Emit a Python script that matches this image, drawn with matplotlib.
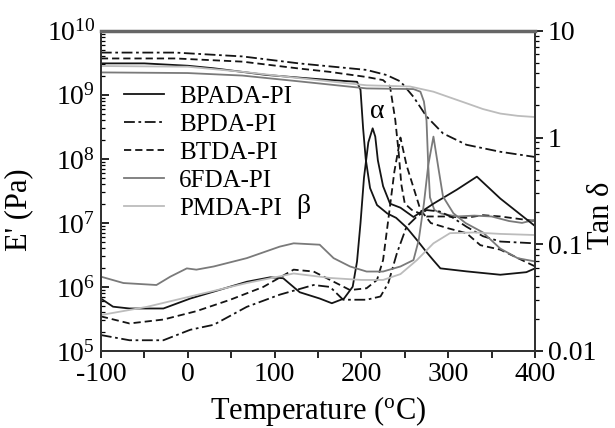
"""DMA curves of the five polyimides: E' and tan delta against temperature."""

import matplotlib
matplotlib.use('Agg')
import matplotlib.pyplot as plt
from matplotlib.ticker import LogLocator, MultipleLocator, NullFormatter

plt.rcParams['font.family'] = ['Liberation Serif', 'DejaVu Serif']
plt.rcParams['mathtext.fontset'] = 'custom'
plt.rcParams['mathtext.rm'] = 'Liberation Serif'
plt.rcParams['mathtext.it'] = 'Liberation Serif:italic'
plt.rcParams['axes.unicode_minus'] = False

NAMES = ['BPADA-PI', 'BPDA-PI', 'BTDA-PI', '6FDA-PI', 'PMDA-PI']

# storage modulus E' (Pa)
bpada_t_e = [-100, -50, 0, 30, 90, 130, 165, 195, 199, 202, 205, 210, 218, 230,
             240, 252, 264, 275, 283, 291, 321, 360, 390, 400]
bpada_e = [3.1e9, 3.1e9, 2.85e9, 2.6e9, 2.05e9, 1.85e9, 1.7e9, 1.6e9, 1.2e9, 3e8,
           1e8, 3.5e7, 1.9e7, 1.4e7, 1.2e7, 8.5e6, 5.4e6, 3.5e6, 2.6e6, 1.95e6,
           1.75e6, 1.55e6, 1.7e6, 1.95e6]
bpda_t_e = [-100, -14, 63, 129, 206, 229, 245, 260, 275, 294, 321, 360, 400]
bpda_e = [4.57e9, 4.57e9, 3.98e9, 3.09e9, 2.45e9, 2.04e9, 1.62e9, 9.3e8, 4.6e8,
          2.5e8, 1.66e8, 1.29e8, 1.07e8]
btda_t_e = [-100, -14, 63, 129, 163, 206, 225, 233, 239, 243, 246, 250, 258, 275,
            300, 320, 340, 360, 400]
btda_e = [3.7e9, 3.7e9, 3.3e9, 2.57e9, 2.29e9, 1.9e9, 1.7e9, 1.35e9, 4.1e8, 1.23e8,
          4e7, 2e7, 1.6e7, 1.26e7, 1.26e7, 1.2e7, 1.32e7, 1.26e7, 1.07e7]
fda_t_e = [-100, 0, 63, 129, 206, 260, 268, 272, 275, 277, 279, 284, 292, 310, 330,
           350, 370, 385, 400]
fda_e = [2.24e9, 2.19e9, 2.0e9, 1.62e9, 1.26e9, 1.23e9, 1.12e9, 7.9e8, 4e8, 7.9e7,
         2.5e7, 1.6e7, 1.4e7, 1.26e7, 1.3e7, 1.26e7, 1.07e7, 1.0e7, 1.12e7]
pmda_t_e = [-100, 0, 63, 129, 206, 256, 283, 300, 321, 340, 360, 380, 400]
pmda_e = [2.82e9, 2.75e9, 2.29e9, 1.82e9, 1.41e9, 1.35e9, 1.12e9, 9.3e8, 7.4e8,
          6.0e8, 5.1e8, 4.7e8, 4.5e8]

# loss factor tan delta
bpada_t_d = [-100, -86, -67, -28, 3, 30, 68, 95, 110, 129, 152, 166, 180, 190, 195,
             199, 203, 208, 213, 216, 219, 225, 233, 245, 260, 283, 310, 333, 360, 400]
bpada_d = [0.031, 0.026, 0.025, 0.025, 0.031, 0.036, 0.0445, 0.049, 0.048, 0.0355,
           0.031, 0.028, 0.031, 0.040, 0.069, 0.158, 0.42, 0.9, 1.22, 1.02, 0.61,
           0.35, 0.24, 0.22, 0.18, 0.24, 0.325, 0.43, 0.268, 0.148]
bpda_t_d = [-100, -67, -28, 3, 30, 68, 106, 145, 164, 179, 206, 222, 231, 241, 252,
            264, 275, 290, 305, 321, 340, 360, 400]
bpda_d = [0.0141, 0.0126, 0.0126, 0.0158, 0.0176, 0.0259, 0.0337, 0.0415, 0.0398,
          0.0302, 0.0302, 0.0324, 0.0433, 0.0828, 0.146, 0.182, 0.209, 0.203, 0.178,
          0.146, 0.119, 0.106, 0.102]
btda_t_d = [-100, -67, -28, 10, 49, 87, 122, 145, 164, 187, 206, 218, 225, 231, 238,
            245, 252, 260, 268, 280, 300, 321, 337, 360, 400]
btda_d = [0.0211, 0.0181, 0.0197, 0.0236, 0.0302, 0.0398, 0.0578, 0.0555, 0.0463,
          0.0372, 0.0387, 0.0463, 0.0711, 0.17, 0.48, 1.0, 0.55, 0.34, 0.21, 0.158,
          0.141, 0.127, 0.098, 0.089, 0.062]
fda_t_d = [-100, -74, -36, -20, -1, 10, 30, 68, 106, 122, 152, 168, 187, 206, 225,
           245, 260, 266, 272, 277, 283, 289, 294, 306, 320, 340, 360, 380, 400]
fda_d = [0.0497, 0.0433, 0.0415, 0.0497, 0.0594, 0.0578, 0.0619, 0.0741, 0.095,
         0.102, 0.099, 0.0741, 0.0619, 0.0555, 0.0555, 0.0619, 0.0711, 0.109, 0.24,
         0.55, 1.02, 0.5, 0.28, 0.195, 0.158, 0.129, 0.091, 0.074, 0.069]
pmda_t_d = [-100, -47, 3, 68, 122, 164, 200, 225, 245, 264, 283, 302, 330, 360, 400]
pmda_d = [0.0217, 0.0259, 0.0324, 0.0433, 0.0532, 0.0483, 0.0463, 0.0463, 0.0525,
          0.0711, 0.102, 0.127, 0.129, 0.125, 0.122]

STYLES = [
    dict(color='#141414', ls='-'),
    dict(color='#141414', ls=(0, (6, 2, 1.5, 2))),
    dict(color='#141414', ls=(0, (4, 2.2))),
    dict(color='#7a7a7a', ls='-'),
    dict(color='#bcbcbc', ls='-'),
]

e_curves = [(bpada_t_e, bpada_e), (bpda_t_e, bpda_e), (btda_t_e, btda_e),
            (fda_t_e, fda_e), (pmda_t_e, pmda_e)]
d_curves = [(bpada_t_d, bpada_d), (bpda_t_d, bpda_d), (btda_t_d, btda_d),
            (fda_t_d, fda_d), (pmda_t_d, pmda_d)]

fig = plt.figure(figsize=(6.15, 4.28), dpi=100)
ax = fig.add_axes([0.164, 0.180, 0.706, 0.748])
ax2 = ax.twinx()

handles = []
for (t, e), name, st in zip(e_curves, NAMES, STYLES):
    h, = ax.plot(t, e, lw=1.3, label=name, **st)
    handles.append(h)
for (t, d), st in zip(d_curves, STYLES):
    ax2.plot(t, d, lw=1.3, **st)

ax.set_xlim(-100, 400)
ax.set_yscale('log')
ax.set_ylim(1e5, 1e10)
ax2.set_yscale('log')
ax2.set_ylim(0.01, 10)

ax.xaxis.set_major_locator(MultipleLocator(100))
ax.xaxis.set_minor_locator(MultipleLocator(50))
ax.yaxis.set_major_locator(LogLocator(base=10, numticks=10))
ax.yaxis.set_minor_locator(LogLocator(base=10, subs=range(2, 10), numticks=20))
ax.yaxis.set_minor_formatter(NullFormatter())
ax2.yaxis.set_minor_locator(LogLocator(base=10, subs=range(2, 10), numticks=20))
ax2.yaxis.set_minor_formatter(NullFormatter())
ax2.set_yticks([0.01, 0.1, 1, 10])
ax2.set_yticklabels(['0.01', '0.1', '1', '10'])

ax.tick_params(axis='x', which='major', direction='out', length=5, width=1.2,
               labelsize=20, pad=3)
ax.tick_params(axis='x', which='minor', direction='out', length=5, width=1.2)
ax.tick_params(axis='y', which='major', direction='in', length=6, width=1.2,
               labelsize=20, pad=4)
ax.tick_params(axis='y', which='minor', direction='in', length=3, width=0.9)
ax2.tick_params(axis='y', which='major', direction='out', length=6, width=1.2,
                labelsize=20, pad=3)
ax2.tick_params(axis='y', which='minor', direction='out', length=3, width=0.9)

for a in (ax, ax2):
    for sp in a.spines.values():
        sp.set_linewidth(1.4)
        sp.set_color('#333333')
ax2.spines['top'].set_linewidth(2.5)
ax2.spines['top'].set_color('#666666')

ax.set_xlabel('Temperature ($\\mathregular{^o}$C)', fontsize=22, labelpad=5)
ax.set_ylabel("E' (Pa)", fontsize=22)
ax.yaxis.set_label_coords(-0.155, 0.44)
ax2.set_ylabel('Tan δ', fontsize=22)
ax2.yaxis.set_label_coords(1.12, 0.425)

ax.text(218, 5.4e8, 'α', fontsize=20, ha='center', va='center')
ax.text(133, 1.8e7, 'β', fontsize=20, ha='center', va='center')

ax.legend(handles=handles, loc='upper left', bbox_to_anchor=(0.03, 0.86),
          frameon=False, fontsize=18, handlelength=1.6, handletextpad=0.6,
          labelspacing=0.22, borderaxespad=0)

fig.savefig('out.png', dpi=100)
